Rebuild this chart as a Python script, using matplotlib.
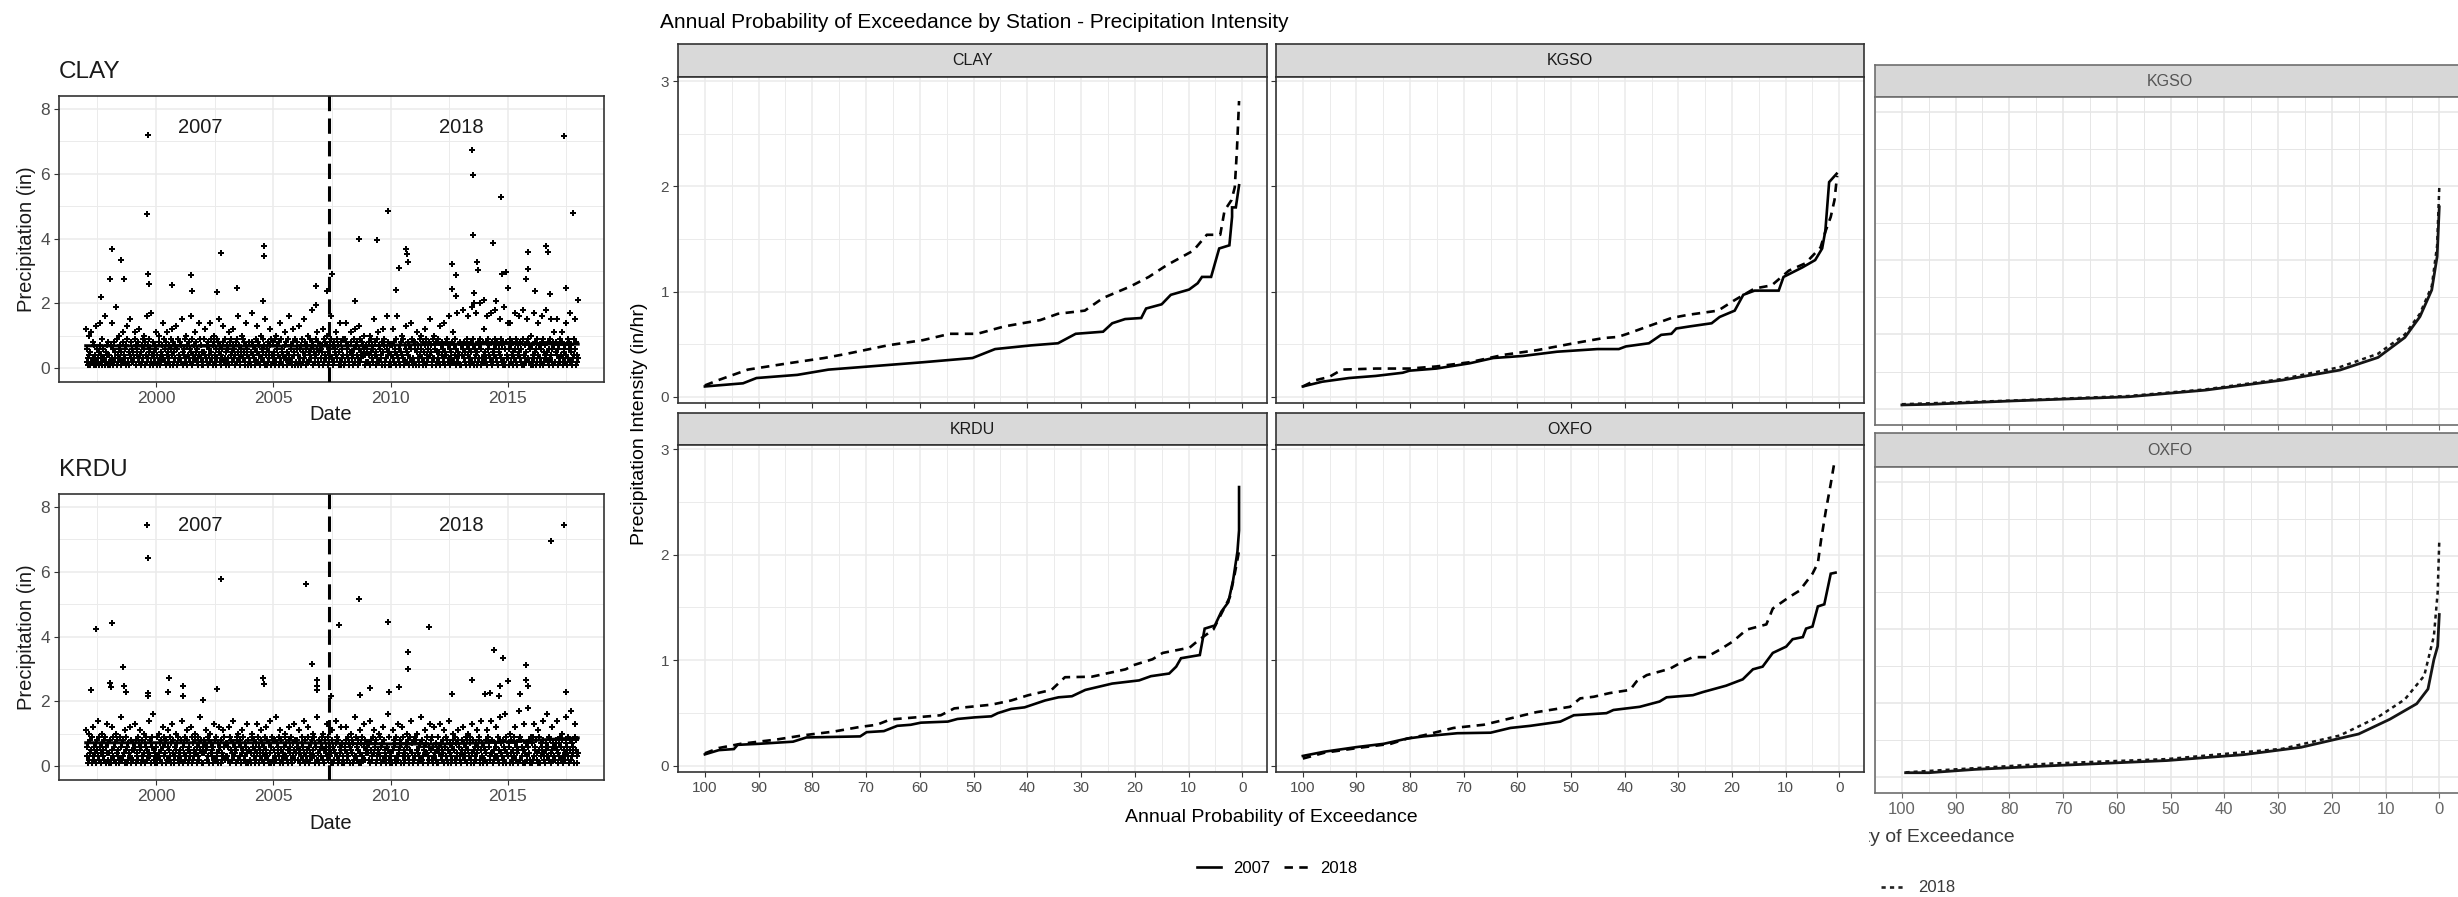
import matplotlib.pyplot as plt
from matplotlib.lines import Line2D
from matplotlib.ticker import MultipleLocator

plt.rcParams['font.family'] = ['Liberation Sans', 'DejaVu Sans']

# ---------------- event scatter data (precipitation per event, inches) ----------------
# one string per year 1997..2017, each character is an event:
# '1'..'9' -> 0.1..0.9 in, 'a'..'k' -> 1.0..2.0 in
clay_band = [
    "c2631a4152b2837142d1623517e2419363g15274812",
    "4172e3618253j1924a6371528b4263179d2514f3826",
    "2539b1746382c4157293a6184g2735916h24183572b",
    "6142a8315274e3926184b5237169c4812573d619243",
    "3827f1546293a7148362g5194273b8526314e937152",
    "1954c3728164e2593718a4261938f5274136d829315",
    "7263b1849527c3614829g5372164a9385217e461832",
    "2518h4736192d5827413a6395271f4168253c719482",
    "5391a2674813e9256143b7381592g4267318c549126",
    "8142d6371952f3486127a5294368i1753294b628157",
    "3675c1924837a5162849g3718265b4937152e816394",
    "1928e4637215b8351496c2784136d9253847a614725",
    "6284a1593726f4815392b7263418c5972136g481527",
    "4173c8265194g3627185a4931726d5284173e692318",
    "2861b5372149a6318527c9142638f4751293a368152",
    "9352d1748263e5184927g3615382b7249163h524817",
    "1746i3825197g4263158j2791364h5182739k613284c",
    "5283g1694732h8152649i3728165f4937218j261834e",
    "3619e2748153h6291847g5382619i4173528f937261a",
    "7241h3856192e4713628g9152743i5286139f462817b",
    "2584f1637294b8316527e4193682h5721394f618243",
]
krdu_band = [
    "b3617a2485193c6241758e3926147a5382916d4271",
    "4812c5936271a8435192f6273841b9516274c38152",
    "2756d1843927b5618324a7196253e4831769g25143",
    "6193a4728516c3947182b6253917d4812635a79214",
    "3528e1674293b8516243c9172538a4619372f58146",
    "1847b5263918a4735162d8294371c5618243b96273",
    "7362c1958427e3645189a2738164b9527316d48152",
    "2419a6835172d4916358b7241639c5382714e61928",
    "5183f2746391b8524163a9372518c4629137d58246",
    "8264b1537926e4813259c6142783a5397162f42815",
    "3796a2158463d9275314b8162547e3918264c57132",
    "1658c4239716a5847123f9362581b4713926d82547",
    "6427e1853294b7618325a4936172c8254136g59214",
    "4315b8627193d2546871c3915247a6382159e74218",
    "2938a5146372f8213654b7491326d5829163c47251",
    "9164d3725841b6398215e4713268a5927143b86324",
    "1583c7246918a5379214d8156372b4698125e37162",
    "5248b1967324e8415273c6392518f4731826g59143",
    "3671a4825193c7264158h2983615d5147236i48219",
    "7129d3658241b5917364e8241573g6392814c57236",
    "2865e1473926a8315247f4693158h2736419d58314",
]

clay_peak_yr = [1999.66, 1999.61, 1998.10, 1998.50, 1998.03, 1998.63, 1999.66, 1999.71,
                2000.67, 2001.48, 2001.53, 2002.75, 2002.61, 2003.46, 2004.60, 2004.60,
                2004.55, 2006.83, 2006.83, 2007.27, 2007.50, 1997.67, 2008.65, 2009.44,
                2009.87, 2010.24, 2010.37, 2010.67, 2010.71, 2010.74, 2008.48, 2012.61,
                2012.80, 2012.61, 2012.77, 2013.46, 2013.51, 2013.52, 2013.69, 2013.74,
                2013.57, 2013.57, 2014.38, 2014.72, 2014.75, 2014.92, 2015.02, 2013.98,
                2014.50, 2015.85, 2015.87, 2015.77, 2016.14, 2016.61, 2016.71, 2016.78,
                2017.39, 2017.50, 2017.76, 2017.99]
clay_peak_in = [7.20, 4.75, 3.67, 3.34, 2.75, 2.75, 2.90, 2.60,
                2.55, 2.87, 2.37, 3.54, 2.34, 2.47, 3.76, 3.45,
                2.06, 2.54, 1.95, 2.37, 2.90, 2.19, 3.98, 3.94,
                4.84, 2.42, 3.09, 3.67, 3.52, 3.27, 2.06, 3.22,
                2.88, 2.44, 2.24, 6.74, 5.95, 4.12, 3.27, 3.03,
                2.31, 2.00, 3.86, 5.28, 2.90, 2.96, 2.47, 2.11,
                2.06, 3.58, 3.06, 2.76, 2.37, 3.76, 3.58, 2.28,
                7.15, 2.47, 4.78, 2.11]

krdu_peak_yr = [1999.61, 1999.65, 1997.45, 1998.14, 1997.23, 1998.57, 1998.03, 1998.06,
                1998.65, 1998.70, 1999.66, 1999.66, 2000.54, 2000.51, 2001.15, 2001.15,
                2002.02, 2002.75, 2002.61, 2004.57, 2004.60, 2006.41, 2006.66, 2006.86,
                2006.86, 2006.86, 2007.47, 2007.81, 2008.65, 2008.68, 2009.14, 2009.90,
                2009.95, 2010.37, 2010.74, 2010.74, 2011.64, 2012.61, 2013.46, 2014.03,
                2014.25, 2014.42, 2014.79, 2014.67, 2014.62, 2015.02, 2015.77, 2015.77,
                2015.87, 2015.51, 2016.86, 2017.40, 2017.50]
krdu_peak_in = [7.44, 6.43, 4.23, 4.43, 2.36, 3.06, 2.58, 2.43,
                2.48, 2.28, 2.26, 2.15, 2.72, 2.28, 2.46, 2.15,
                2.05, 5.79, 2.38, 2.72, 2.53, 5.61, 3.16, 2.67,
                2.46, 2.36, 2.15, 4.36, 5.17, 2.18, 2.41, 4.46,
                2.28, 2.44, 3.53, 3.00, 4.29, 2.23, 2.67, 2.23,
                2.26, 3.57, 3.33, 2.46, 2.15, 2.64, 3.12, 2.67,
                2.46, 2.23, 6.95, 7.44, 2.28]

# smoothed trend through the events
clay_trend_yr = [1997.0, 2000, 2003, 2006, 2009, 2011, 2013, 2015, 2018.0]
clay_trend_in = [0.69, 0.68, 0.68, 0.68, 0.69, 0.72, 0.74, 0.75, 0.74]
krdu_trend_yr = [1997.0, 2000, 2003, 2006, 2009, 2012, 2014, 2016, 2018.0]
krdu_trend_in = [0.72, 0.72, 0.72, 0.72, 0.69, 0.68, 0.72, 0.79, 0.87]

split_year = 2007.38

# ---------------- exceedance curves (probability %, intensity in/hr) ----------------
clay_p07 = [100, 92.9, 90.4, 82.8, 77, 69.4, 59.4, 50.2, 46, 39.3, 34.3, 31, 25.9, 24.2, 21.8,
            18.8, 17.9, 15, 13.3, 9.9, 8.3, 7.5, 5.8, 4.3, 2.4, 1.9, 1.9, 1.2, 0.6]
clay_v07 = [0.10, 0.13, 0.18, 0.21, 0.26, 0.29, 0.33, 0.37, 0.455, 0.49, 0.51, 0.60, 0.62, 0.70,
            0.74, 0.75, 0.84, 0.88, 0.97, 1.02, 1.08, 1.14, 1.14, 1.41, 1.44, 1.71, 1.80, 1.80, 2.01]
clay_p18 = [100, 97.5, 92, 84.5, 77.8, 73.6, 66, 59.4, 54.4, 49.3, 44.3, 37.6, 34.3, 29.3, 25.9,
            20.8, 17.4, 14.1, 9.1, 6.6, 4.1, 3.3, 2.0, 1.4, 1.0, 0.6]
clay_v18 = [0.11, 0.16, 0.26, 0.32, 0.37, 0.41, 0.49, 0.54, 0.60, 0.60, 0.67, 0.73, 0.79, 0.82,
            0.94, 1.05, 1.14, 1.25, 1.39, 1.54, 1.54, 1.77, 1.87, 1.99, 2.34, 2.81]

kgso_p07 = [100, 96.4, 91.4, 86.4, 81.4, 80.1, 75.1, 68.9, 64.5, 58.9, 52.6, 45.1, 41.1, 39.8,
            35.5, 33.2, 31.3, 30.4, 27.9, 23.8, 22.3, 19.5, 17.9, 15.8, 11.3, 10.4, 6.9, 4.5,
            3.2, 2.6, 1.9, 0.5]
kgso_v07 = [0.10, 0.145, 0.18, 0.20, 0.23, 0.25, 0.27, 0.32, 0.37, 0.39, 0.43, 0.455, 0.455,
            0.48, 0.51, 0.59, 0.60, 0.65, 0.67, 0.70, 0.76, 0.82, 0.97, 1.01, 1.01, 1.14, 1.23,
            1.30, 1.41, 1.58, 2.04, 2.12]
kgso_p18 = [100, 97.6, 95.1, 92.7, 86.4, 80.1, 75.1, 68.9, 62.6, 56.3, 49.5, 43.9, 41.3, 39.5,
            35.7, 31.3, 28.2, 22.6, 19.5, 15.8, 12.6, 9.4, 6.3, 3.5, 2.6, 1.6, 0.9, 0.5, 0.4]
kgso_v18 = [0.10, 0.16, 0.19, 0.26, 0.27, 0.27, 0.29, 0.33, 0.40, 0.445, 0.51, 0.56, 0.57,
            0.60, 0.67, 0.75, 0.78, 0.82, 0.92, 1.03, 1.06, 1.20, 1.27, 1.42, 1.57, 1.71, 1.87,
            2.06, 2.10]

krdu_p07 = [100, 97.4, 94.6, 93.9, 89.9, 83.6, 81.1, 71.1, 69.9, 66.7, 64.2, 61.7, 59.8, 54.8,
            53, 49.8, 46.7, 45.5, 43, 40.5, 36.7, 34.2, 31.7, 29.2, 26.7, 24.2, 19.2, 17, 13.6,
            12.3, 11.4, 7.9, 7.0, 5.1, 3.9, 2.6, 1.7, 0.9, 0.6, 0.6]
krdu_v07 = [0.11, 0.15, 0.16, 0.20, 0.21, 0.23, 0.27, 0.28, 0.32, 0.33, 0.38, 0.39, 0.41, 0.42,
            0.445, 0.46, 0.47, 0.50, 0.54, 0.555, 0.62, 0.65, 0.66, 0.72, 0.75, 0.78, 0.81, 0.85,
            0.875, 0.94, 1.02, 1.05, 1.30, 1.33, 1.46, 1.55, 1.76, 2.03, 2.23, 2.64]
krdu_p18 = [100, 97.4, 93.3, 86.7, 81.7, 76.1, 71.1, 68, 65.5, 56.1, 53.6, 46.7, 43, 39.8, 35.5,
            33, 28, 21.7, 20.2, 16.7, 14.8, 9.8, 7.9, 5.4, 3.9, 2.3, 1.4, 0.8, 0.6]
krdu_v18 = [0.12, 0.17, 0.21, 0.25, 0.29, 0.325, 0.37, 0.39, 0.44, 0.48, 0.545, 0.58, 0.62,
            0.67, 0.72, 0.84, 0.845, 0.915, 0.955, 1.01, 1.07, 1.12, 1.20, 1.29, 1.44, 1.60,
            1.82, 1.98, 2.04]

oxfo_p07 = [100, 96, 89.8, 84.9, 80.5, 77.5, 71.2, 65, 61.3, 57.6, 52, 49.5, 43.4, 42.1, 37.2,
            33.5, 32.2, 27.3, 25.4, 21.1, 18, 16.1, 14.3, 12.4, 9.9, 8.7, 6.8, 6.2, 5.0, 4.0,
            2.8, 1.6, 0.7]
oxfo_v07 = [0.095, 0.135, 0.18, 0.21, 0.26, 0.28, 0.31, 0.315, 0.36, 0.38, 0.42, 0.48, 0.50,
            0.53, 0.56, 0.61, 0.65, 0.67, 0.70, 0.76, 0.82, 0.915, 0.94, 1.07, 1.13, 1.20, 1.22,
            1.30, 1.32, 1.51, 1.53, 1.82, 1.83]
oxfo_p18 = [100, 96, 89.8, 83.6, 80.5, 77.5, 71.9, 66.3, 63.8, 58.9, 56.4, 50.2, 48.3, 45.8,
            42.8, 39.0, 37.8, 35.9, 31.6, 29.1, 27.3, 24.8, 22.3, 19.8, 17.3, 13.6, 12.4, 9.3,
            7.4, 5.0, 4.0, 3.4, 2.5, 1.6, 1.0]
oxfo_v18 = [0.07, 0.125, 0.17, 0.21, 0.26, 0.29, 0.36, 0.39, 0.42, 0.48, 0.51, 0.56, 0.64,
            0.655, 0.69, 0.72, 0.80, 0.86, 0.92, 0.99, 1.03, 1.03, 1.10, 1.18, 1.29, 1.34, 1.49,
            1.60, 1.66, 1.82, 1.92, 2.14, 2.42, 2.67, 2.85]

# full-record curves for the two inland stations
kgso_all_p07 = [100, 94.3, 79.3, 57.9, 43.5, 29.2, 18.5, 11.4, 6.4, 3.6, 1.4, 0.4, 0.0]
kgso_all_v07 = [0.05, 0.06, 0.105, 0.16, 0.25, 0.385, 0.52, 0.69, 0.96, 1.24, 1.60, 2.05, 2.72]
kgso_all_p18 = [100, 79.3, 57.9, 43.5, 29.2, 18.5, 11.4, 6.4, 3.6, 1.4, 0.4, 0.0]
kgso_all_v18 = [0.06, 0.11, 0.17, 0.26, 0.40, 0.56, 0.74, 1.00, 1.28, 1.65, 2.20, 2.98]
oxfo_all_p07 = [99.3, 95, 86.4, 72.1, 50.7, 36.4, 25.7, 15, 9.2, 4.2, 2.1, 1.0, 0.3, 0.0]
oxfo_all_v07 = [0.055, 0.055, 0.10, 0.15, 0.22, 0.30, 0.40, 0.58, 0.78, 0.99, 1.19, 1.59, 1.77, 2.2]
oxfo_all_p18 = [99.3, 72.1, 50.7, 29.2, 18.5, 11.4, 6.4, 2.8, 1.0, 0.3, 0.0]
oxfo_all_v18 = [0.06, 0.18, 0.24, 0.38, 0.56, 0.81, 1.05, 1.37, 1.91, 2.5, 3.2]

# ---------------- layout helpers (pixel coordinates, origin top-left) ----------------
W, H = 2458, 897
fig = plt.figure(figsize=(W / 100, H / 100), dpi=100)


def px_axes(x0, y0, x1, y1, **kw):
    return fig.add_axes([x0 / W, 1 - y1 / H, (x1 - x0) / W, (y1 - y0) / H], **kw)


def fig_text(x, y, s, **kw):
    fig.text(x / W, 1 - y / H, s, **kw)


def decode_band(rows, first_year):
    xs, ys = [], []
    for i, row in enumerate(rows):
        for j, ch in enumerate(row):
            xs.append(first_year + i + (j + 0.5) / len(row))
            ys.append(int(ch) / 10 if ch.isdigit() else 1 + (ord(ch) - ord('a')) / 10)
    return xs, ys


def bw_style(ax, xmaj, xmin, ymaj, ymin, labelsize, edge='#333333', grid='#EBEBEB',
             labelcolor='#4D4D4D'):
    ax.xaxis.set_major_locator(MultipleLocator(xmaj))
    ax.xaxis.set_minor_locator(MultipleLocator(xmin))
    ax.yaxis.set_major_locator(MultipleLocator(ymaj))
    ax.yaxis.set_minor_locator(MultipleLocator(ymin))
    ax.grid(which='major', color=grid, lw=1.1)
    ax.grid(which='minor', color=grid, lw=0.7)
    ax.set_axisbelow(True)
    for s in ax.spines.values():
        s.set_color(edge)
        s.set_linewidth(1.2)
    ax.tick_params(which='major', length=3.5, width=0.8, color=edge,
                   labelcolor=labelcolor, labelsize=labelsize, pad=3)
    ax.tick_params(which='minor', length=0)


# ---------------- left column: event scatter per station ----------------
def event_panel(top, name, band, peak_yr, peak_in, trend_yr, trend_in, date_y):
    ax = px_axes(59, top, 604, top + 286)
    bx, by = decode_band(band, 1997)
    ax.plot(bx, by, 'P', ms=4.3, mew=0, color='black', zorder=3)
    ax.plot(peak_yr, peak_in, 'P', ms=4.3, mew=0, color='black', zorder=3)
    ax.plot(trend_yr, trend_in, color='black', lw=2.2, zorder=4)
    ax.axvline(split_year, color='black', lw=2.2, dashes=(5, 2.4), zorder=4)
    ax.text(2001.9, 7.42, '2007', fontsize=14.5, ha='center', va='center', color='#1A1A1A')
    ax.text(2013.0, 7.42, '2018', fontsize=14.5, ha='center', va='center', color='#1A1A1A')
    ax.set_xlim(1995.86, 2019.1)
    ax.set_ylim(-0.43, 8.4)
    bw_style(ax, 5, 2.5, 2, 1, 12.5)
    fig_text(59, top - 24, name, fontsize=17.5, va='center', color='#1A1A1A')
    fig_text(331, date_y, 'Date', fontsize=14.5, ha='center', va='center', color='#1A1A1A')
    fig_text(27, top + 143, 'Precipitation (in)', fontsize=14.5, rotation=90,
             ha='center', va='center', color='#1A1A1A')


event_panel(96, 'CLAY', clay_band, clay_peak_yr, clay_peak_in,
            clay_trend_yr, clay_trend_in, 414)
event_panel(494, 'KRDU', krdu_band, krdu_peak_yr, krdu_peak_in,
            krdu_trend_yr, krdu_trend_in, 823)

# ---------------- middle: 2x2 facets of exceedance curves ----------------
P_LIM = (105.0, -4.6)
I_LIM = (-0.057, 3.038)


def strip(x0, x1, y0, y1, label, face='#D9D9D9', edge='#333333', color='#1A1A1A'):
    s = px_axes(x0, y0, x1, y1, facecolor=face)
    s.set_xticks([])
    s.set_yticks([])
    for sp in s.spines.values():
        sp.set_color(edge)
        sp.set_linewidth(1.2)
    s.text(0.5, 0.5, label, transform=s.transAxes, ha='center', va='center',
           fontsize=11.5, color=color)


cols = [(678, 1267), (1276, 1864)]
rows = [(44, 77, 403), (413, 445, 772)]
facets = [
    ('CLAY', 0, 0, clay_p07, clay_v07, clay_p18, clay_v18),
    ('KGSO', 0, 1, kgso_p07, kgso_v07, kgso_p18, kgso_v18),
    ('KRDU', 1, 0, krdu_p07, krdu_v07, krdu_p18, krdu_v18),
    ('OXFO', 1, 1, oxfo_p07, oxfo_v07, oxfo_p18, oxfo_v18),
]
for name, r, c, p07, v07, p18, v18 in facets:
    x0, x1 = cols[c]
    y_strip, y_top, y_bot = rows[r]
    strip(x0, x1, y_strip, y_top, name)
    ax = px_axes(x0, y_top, x1, y_bot)
    ax.plot(p07, v07, color='black', lw=1.9, solid_joinstyle='miter')
    ax.plot(p18, v18, color='black', lw=1.9, dashes=(3.2, 2.4))
    ax.set_xlim(*P_LIM)
    ax.set_ylim(*I_LIM)
    bw_style(ax, 10, 5, 1, 0.5, 11)
    ax.tick_params(labelbottom=(r == 1), labelleft=(c == 0))

fig_text(660, 22, 'Annual Probability of Exceedance by Station - Precipitation Intensity',
         fontsize=15, va='center', color='black')
fig_text(1271, 817, 'Annual Probability of Exceedance', fontsize=14, ha='center',
         va='center', color='black')
fig_text(640, 424, 'Precipitation Intensity (in/hr)', fontsize=14, rotation=90,
         ha='center', va='center', color='black')

solid_key = Line2D([], [], color='black', lw=1.9)
dashed_key = Line2D([], [], color='black', lw=1.9, dashes=(3.2, 2.4))
fig.legend([solid_key, dashed_key], ['2007', '2018'], loc='center',
           bbox_to_anchor=(1277 / W, 1 - 868 / H), ncol=2, frameon=False, fontsize=12,
           handlelength=1.45, handletextpad=0.75, columnspacing=0.8)

# ---------------- right: full-record facets (cropped at the left) ----------------
bg = px_axes(1869, 0, 2458, 897)
bg.set_xlim(1869, 2458)
bg.set_ylim(897, 0)
bg.axis('off')
bg.text(2015, 838, 'Annual Probability of Exceedance', fontsize=14, ha='right',
        va='center', color='#3A3A3A', clip_on=True)
bg.legend([Line2D([], [], color='#222222', lw=1.9, dashes=(1.6, 1.6))], ['2018'],
          loc='center left', bbox_to_anchor=(1881, 888), bbox_transform=bg.transData,
          frameon=False, fontsize=12, handlelength=1.5, handletextpad=0.7,
          borderaxespad=0, borderpad=0, labelcolor='#3A3A3A')

right_rows = [(65, 97, 425), (433, 467, 793)]
right_facets = [
    ('KGSO', kgso_all_p07, kgso_all_v07, kgso_all_p18, kgso_all_v18),
    ('OXFO', oxfo_all_p07, oxfo_all_v07, oxfo_all_p18, oxfo_all_v18),
]
for i, (name, p07, v07, p18, v18) in enumerate(right_facets):
    y_strip, y_top, y_bot = right_rows[i]
    strip(1875, 2464, y_strip, y_top, name, face='#D7D7D7', edge='#6E6E6E', color='#555555')
    ax = px_axes(1875, y_top, 2464, y_bot)
    ax.plot(p07, v07, color='#151515', lw=2.0)
    ax.plot(p18, v18, color='#151515', lw=1.8, dashes=(1.6, 1.6))
    ax.set_xlim(*P_LIM)
    ax.set_ylim(-0.22, 4.2)
    bw_style(ax, 10, 5, 1, 0.5, 12, edge='#6E6E6E', grid='#E6E6E6', labelcolor='#666666')
    ax.tick_params(labelleft=False, labelbottom=(i == 1), left=False)

fig.savefig('out.png', dpi=100)
